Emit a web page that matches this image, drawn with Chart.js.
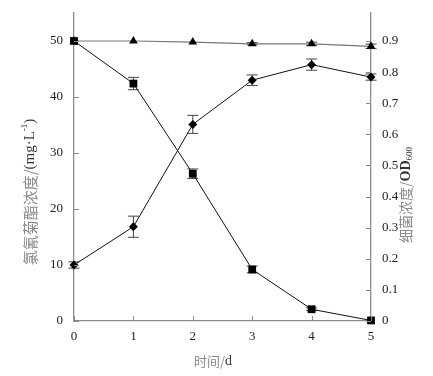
<!DOCTYPE html>
<html>
<head>
<meta charset="utf-8">
<script src="https://cdn.jsdelivr.net/npm/chart.js@4.4.1/dist/chart.umd.min.js"></script>
<style>
  html, body { margin: 0; padding: 0; background: #fff; }
  #wrap { width: 433px; height: 376px; }
</style>
</head>
<body>
<div id="wrap"><canvas id="chart"></canvas></div>
<script>
// time in days
const days = [0, 1, 2, 3, 4, 5];

// chlorocypermethrin, mg/L (squares, left axis)
const sqVals = [50, 42.4, 26.3, 9.2, 2.1, 0.1];
const sqErr  = [0, 1.1, 0.85, 0.6, 0.25, 0];

// control (triangles, left axis)
const trVals = [50, 50, 49.8, 49.5, 49.5, 49.05];
const trErr  = [0, 0, 0, 0.2, 0.3, 0.4];

// bacteria OD600 (diamonds, right axis)
const dmVals = [0.18, 0.303, 0.632, 0.774, 0.824, 0.784];
const dmErr  = [0.01, 0.034, 0.029, 0.017, 0.018, 0.01];

const leftTicks  = [0, 10, 20, 30, 40, 50];
const rightTicks = [0, 0.1, 0.2, 0.3, 0.4, 0.5, 0.6, 0.7, 0.8, 0.9];
const xTicks = [0, 1, 2, 3, 4, 5];

const serif = "'Liberation Serif', 'Times New Roman', serif";
const cjk = "'Noto Sans CJK SC', sans-serif";
const axisColor = '#8c8c8c';

const pts = vals => vals.map((v, i) => ({ x: days[i], y: v }));

// drawn before the datasets so the markers sit on top
const errorBars = {
  id: 'errorBars',
  beforeDatasetsDraw(chart) {
    const ctx = chart.ctx;
    const x = chart.scales.x;
    const sets = [
      [sqVals, sqErr, chart.scales.y],
      [trVals, trErr, chart.scales.y],
      [dmVals, dmErr, chart.scales.y1]
    ];
    ctx.save();
    ctx.strokeStyle = '#444';
    ctx.lineWidth = 1;
    sets.forEach(([vals, errs, ys]) => {
      vals.forEach((v, i) => {
        if (!errs[i]) return;
        const px = x.getPixelForValue(days[i]);
        const top = ys.getPixelForValue(v + errs[i]);
        const bot = ys.getPixelForValue(v - errs[i]);
        ctx.beginPath();
        ctx.moveTo(px, top); ctx.lineTo(px, bot);
        ctx.moveTo(px - 5.5, top); ctx.lineTo(px + 5.5, top);
        ctx.moveTo(px - 5.5, bot); ctx.lineTo(px + 5.5, bot);
        ctx.stroke();
      });
    });
    ctx.restore();
  }
};

const axisDecor = {
  id: 'axisDecor',
  afterDraw(chart) {
    const ctx = chart.ctx;
    const { x, y, y1 } = chart.scales;
    const a = chart.chartArea;
    ctx.save();
    // inward tick marks
    ctx.strokeStyle = axisColor;
    ctx.lineWidth = 1;
    ctx.beginPath();
    leftTicks.forEach(v => {
      const py = Math.round(y.getPixelForValue(v)) + 0.5;
      ctx.moveTo(a.left, py); ctx.lineTo(a.left + 5, py);
    });
    rightTicks.forEach(v => {
      const py = Math.round(y1.getPixelForValue(v)) + 0.5;
      ctx.moveTo(a.right, py); ctx.lineTo(a.right - 5, py);
    });
    xTicks.forEach(v => {
      const px = Math.round(x.getPixelForValue(v)) + 0.5;
      ctx.moveTo(px, a.bottom); ctx.lineTo(px, a.bottom - 5);
    });
    ctx.stroke();

    // axis titles
    const drawParts = (parts, cx, cy, rot) => {
      ctx.save();
      ctx.translate(cx, cy);
      ctx.rotate(rot);
      ctx.textBaseline = 'middle';
      ctx.textAlign = 'left';
      let total = 0;
      parts.forEach(p => { ctx.font = p.font; total += ctx.measureText(p.text).width; });
      let pos = -total / 2;
      parts.forEach(p => {
        ctx.font = p.font;
        ctx.fillStyle = p.color;
        ctx.fillText(p.text, pos, p.dy || 0);
        pos += ctx.measureText(p.text).width;
      });
      ctx.restore();
    };
    const grey = '#8a8a8a';
    const dark = '#333';
    drawParts([
      { text: '氯氰菊酯浓度/', font: '15px ' + cjk, color: grey },
      { text: '(mg·L', font: '15px ' + serif, color: dark },
      { text: '-1', font: '9px ' + serif, color: dark, dy: -5 },
      { text: ')', font: '15px ' + serif, color: dark }
    ], 30, 192, -Math.PI / 2);
    drawParts([
      { text: '细菌浓度/', font: '14px ' + cjk, color: grey },
      { text: 'OD', font: 'bold 14px ' + serif, color: dark },
      { text: '600', font: '9px ' + serif, color: dark, dy: 4 }
    ], 406, 195, -Math.PI / 2);
    drawParts([
      { text: '时间/', font: '13px ' + cjk, color: grey },
      { text: 'd', font: '14px ' + serif, color: dark }
    ], 213, 361, 0);
    ctx.restore();
  }
};

const tickFont = { family: serif, size: 13 };

// fixed axis box sizes so the plot area lands where the reference has it
const fitY = w => s => { s.width = w; s.paddingTop = 0; s.paddingBottom = 0; };

new Chart(document.getElementById('chart'), {
  type: 'line',
  data: {
    datasets: [
      {
        label: '氯氰菊酯',
        data: pts(sqVals),
        yAxisID: 'y',
        borderColor: '#111',
        backgroundColor: '#000',
        borderWidth: 1,
        pointStyle: 'rect',
        pointRadius: 5.5,
        pointBorderWidth: 0,
        clip: false
      },
      {
        label: '对照',
        data: pts(trVals),
        yAxisID: 'y',
        borderColor: '#777',
        backgroundColor: '#000',
        borderWidth: 1.2,
        pointStyle: 'triangle',
        pointRadius: 5,
        pointBorderWidth: 0,
        clip: false
      },
      {
        label: 'OD600',
        data: pts(dmVals),
        yAxisID: 'y1',
        borderColor: '#111',
        backgroundColor: '#000',
        borderWidth: 1,
        pointStyle: 'rectRot',
        pointRadius: 4.5,
        pointBorderWidth: 0,
        clip: false
      }
    ]
  },
  options: {
    responsive: true,
    maintainAspectRatio: false,
    animation: false,
    layout: { padding: { top: 13 } },
    plugins: {
      legend: { display: false },
      tooltip: { enabled: false }
    },
    scales: {
      x: {
        type: 'linear',
        min: 0,
        max: 5,
        afterBuildTicks: s => { s.ticks = xTicks.map(v => ({ value: v })); },
        afterFit: s => { s.height = 55; s.paddingLeft = 0; s.paddingRight = 0; },
        grid: { display: false, drawTicks: false },
        border: { color: axisColor, width: 1.3 },
        ticks: { color: '#222', font: tickFont, padding: 8 }
      },
      y: {
        position: 'left',
        min: 0,
        max: 55,
        afterBuildTicks: s => { s.ticks = leftTicks.map(v => ({ value: v })); },
        afterFit: fitY(74),
        grid: { display: false, drawTicks: false },
        border: { color: axisColor, width: 1.3 },
        ticks: { color: '#222', font: tickFont, padding: 11 }
      },
      y1: {
        position: 'right',
        min: 0,
        max: 0.99,
        afterBuildTicks: s => { s.ticks = rightTicks.map(v => ({ value: v })); },
        afterFit: fitY(62),
        grid: { display: false, drawTicks: false },
        border: { color: axisColor, width: 1.3 },
        ticks: {
          color: '#222',
          font: tickFont,
          padding: 11,
          callback: v => (v === 0 ? '0' : v.toFixed(1))
        }
      }
    }
  },
  plugins: [errorBars, axisDecor]
});
</script>
</body>
</html>
